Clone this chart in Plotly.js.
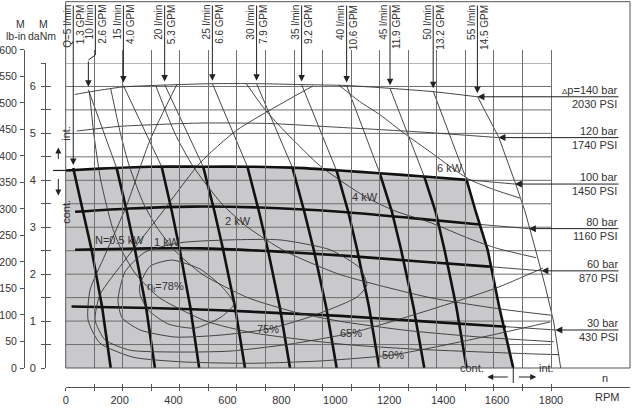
<!DOCTYPE html>
<html><head><meta charset="utf-8">
<script src="https://cdn.plot.ly/plotly-3.0.1.min.js"></script>
<style>html,body{margin:0;padding:0;background:#fff}#chart{width:640px;height:410px}</style>
</head><body><div id="chart"></div>
<script>
// ================= DATA (speed n in RPM, torque M in daNm) =================
const flowQ   = [5, 10, 15, 20, 25, 30, 35, 40, 45, 50, 55];
const flowGPM = ['1.3','2.6','4.0','5.3','6.6','7.9','9.2','10.6','11.9','13.2','14.5'];
const flowN = [
  [28, 64, 96, 135, 167],
  [84, 189, 227, 257, 298, 331],
  [214, 356, 394, 423, 462, 495],
  [367, 510, 552, 584, 628, 665],
  [544, 674, 717, 750, 794, 832],
  [708, 841, 885, 920, 966, 1005],
  [875, 1005, 1048, 1081, 1125, 1163],
  [1042, 1165, 1210, 1244, 1290, 1330],
  [1203, 1330, 1372, 1405, 1449, 1487],
  [1363, 1487, 1521, 1565, 1608, 1660],
  [1527, 1606, 1666, 1703, 1747, 1780, 1810, 1836]
];
const flowT = [
  [4.26, 3.33, 2.52, 1.30, 0],
  [5.93, 4.26, 3.33, 2.52, 1.30, 0],
  [6.02, 4.29, 3.33, 2.52, 1.30, 0],
  [6.04, 4.29, 3.33, 2.52, 1.30, 0],
  [6.06, 4.29, 3.33, 2.52, 1.30, 0],
  [6.06, 4.27, 3.33, 2.52, 1.30, 0],
  [6.04, 4.20, 3.33, 2.52, 1.30, 0],
  [6.02, 4.15, 3.33, 2.52, 1.30, 0],
  [5.96, 4.08, 3.33, 2.52, 1.30, 0],
  [5.90, 4.01, 3.33, 2.52, 1.30, 0],
  [5.79, 4.92, 3.97, 3.35, 2.43, 1.71, 0.98, 0]
];
const flowContFrom = [0, 1, 1, 1, 1, 1, 1, 1, 1, 1, -1];

const pressBar = [140, 120, 100, 80, 60, 30];
const pressPSI = [2030, 1740, 1450, 1160, 870, 430];
const pressN = [
  [34, 83, 212, 368, 546, 709, 876, 1043, 1203, 1362, 1527],
  [41, 201, 498, 758, 980, 1314, 1605],
  [0, 127, 313, 509, 683, 843, 1017, 1165, 1329, 1487, 1666],
  [35, 238, 472, 720, 1017, 1276, 1536, 1718],
  [35, 313, 498, 758, 1017, 1314, 1573, 1764],
  [22, 313, 572, 795, 1017, 1314, 1633, 1816]
];
const pressT = [
  [5.83, 5.88, 5.99, 6.03, 6.06, 6.06, 6.04, 6.02, 5.96, 5.89, 5.78],
  [5.05, 5.15, 5.22, 5.21, 5.14, 5.03, 4.91],
  [4.21, 4.25, 4.29, 4.29, 4.29, 4.27, 4.21, 4.15, 4.08, 4.01, 3.92],
  [3.33, 3.40, 3.44, 3.42, 3.33, 3.20, 3.06, 2.97],
  [2.52, 2.55, 2.55, 2.49, 2.40, 2.27, 2.16, 2.07],
  [1.31, 1.28, 1.23, 1.17, 1.11, 1.00, 0.88, 0.81]
];
const pressContPts = [0, 0, 10, 7, 7, 7];

const powerKW = [0.5, 1, 2, 4, 6];
const powerN = [
  [88, 104, 130, 173, 208, 260, 347, 520, 693, 1040, 1300, 1733, 1830],
  [167, 203, 236, 289, 338, 405, 506, 675, 844, 1013, 1266, 1558, 1810],
  [334, 405, 472, 579, 675, 810, 1013, 1351, 1621, 1800],
  [670, 740, 820, 945, 1111, 1220, 1352, 1500, 1600, 1745],
  [1013, 1090, 1165, 1260, 1351, 1431, 1500, 1590, 1685]
];
const powerT = [
  [5.88, 5.0, 4.0, 3.0, 2.5, 2.0, 1.5, 1.0, 0.75, 0.5, 0.4, 0.3, 0.285],
  [5.95, 5.0, 4.3, 3.5, 3.0, 2.5, 2.0, 1.5, 1.2, 1.0, 0.8, 0.65, 0.56],
  [6.02, 5.0, 4.3, 3.5, 3.0, 2.5, 2.0, 1.5, 1.25, 1.125],
  [6.06, 5.5, 5.0, 4.3, 3.65, 3.35, 3.10, 2.75, 2.55, 2.35],
  [6.03, 5.68, 5.40, 4.98, 4.61, 4.27, 4.01, 3.80, 3.62]
];

const effPct = [78, 75, 65, 50];
const effN = [
  [275, 313, 394, 498, 580, 624, 572, 479, 379, 305, 276, 275],
  [194, 220, 294, 424, 609, 795, 980, 1091, 1117, 1080, 906, 750, 572, 405, 276, 209, 194],
  [917, 635, 498, 350, 220, 127, 109, 146, 238, 424, 609, 832, 1062, 1351, 1599, 1770],
  [413, 313, 227, 146, 90, 83, 127, 250, 435, 683, 943, 1214, 1499, 1796]
];
const effT = [
  [1.77, 2.17, 2.30, 2.11, 1.73, 1.36, 1.07, 0.85, 0.94, 1.24, 1.56, 1.77],
  [1.45, 2.05, 2.47, 2.67, 2.73, 2.73, 2.52, 2.13, 1.77, 1.51, 1.09, 0.83, 0.70, 0.66, 0.81, 1.07, 1.45],
  [6.01, 5.07, 4.37, 3.26, 2.30, 1.56, 1.02, 0.60, 0.38, 0.34, 0.36, 0.51, 0.75, 1.24, 1.71, 2.13],
  [6.05, 4.86, 3.48, 2.41, 1.66, 1.02, 0.53, 0.23, 0.13, 0.10, 0.15, 0.28, 0.60, 0.98]
];

const rpmTicks = [0, 200, 400, 600, 800, 1000, 1200, 1400, 1600, 1800];
const danmMax = 6.5;
const lbinTicks = [0, 50, 100, 150, 200, 250, 300, 350, 400, 450, 500, 550, 600];
const LBIN_PER_DANM = 88.507;

// label anchor positions (layout, not data)
const powerLabelPos = [[201, 2.73], [374, 2.69], [639, 3.14], [1110, 3.65], [1427, 4.27]];
const effLabelPos   = [[369, 1.73], [750, 0.83], [1060, 0.75], [1215, 0.28]];

// ================= GEOMETRY / STYLE =================
const W = 640, H = 410, M = {l: 24, r: 10, t: 0, b: 10};
const PX0 = 65.7, PX1800 = 551, PXR = 630, PY0 = 368, PYT = 63;
const NPERPX = 1800 / (PX1800 - PX0);
const N_MAX = (PXR - PX0) * NPERPX;
const xPx = n => PX0 + n / NPERPX;
const yPx = t => PY0 - t * (PY0 - PYT) / danmMax;
const xP = px => (px - M.l) / (W - M.l - M.r);
const yP = py => (H - M.b - py) / (H - M.t - M.b);
const FONT = 'Liberation Sans, Arial, Helvetica, sans-serif';
const GRID = '#6e6e6e', AX = '#555', TXT = '#333';
const THIN = {color: '#333', width: 0.9};
const THICK = {color: '#111', width: 2.6};
const gridN = Array.from({length: 17}, (_, k) => (k + 1) * 1800 / 17);
const tickN = Array.from({length: 18}, (_, k) => k * 1800 / 17);

// ================= TRACES =================
const traces = [];
function line(n, t, style, xa, ya, shape) {
  traces.push({x: n, y: t, type: 'scatter', mode: 'lines', xaxis: xa || 'x', yaxis: ya || 'y',
    line: Object.assign({shape: shape || 'spline', smoothing: 0.6}, style),
    hoverinfo: 'skip', showlegend: false});
}
effN.forEach((n, i) => line(n, effT[i], THIN, 'x4', 'y2', 'spline'));
powerN.forEach((n, i) => line(n, powerT[i], THIN, 'x3', 'y', 'spline'));
pressN.forEach((n, i) => {
  if (i === 0) line(n, pressT[i].map(v => v * LBIN_PER_DANM), THIN, 'x', 'y3', 'spline');
  else if (i === 1) line(n, pressT[i], THIN, 'x', 'y4', 'spline');
  else line(n, pressT[i], THIN, 'x', 'y', 'spline');
});
pressN.forEach((n, i) => {
  const k = pressContPts[i];
  if (k > 1) line(n.slice(0, k), pressT[i].slice(0, k), THICK, 'x', 'y', 'spline');
});
flowN.forEach((n, i) => {
  line(n, flowT[i], THIN, 'x2', 'y', 'linear');
  const f = flowContFrom[i];
  if (f >= 0) line(n.slice(f), flowT[i].slice(f), THICK, 'x2', 'y', 'linear');
});

// ================= SHAPES =================
const shapes = [];
const pts = [];
for (let j = 0; j < pressContPts[2]; j++) pts.push([pressN[2][j], pressT[2][j]]);
for (let j = 1; j < flowN[9].length; j++) pts.push([flowN[9][j], flowT[9][j]]);
pts.push([0, 0]);
shapes.push({type: 'path', xref: 'x', yref: 'y', layer: 'below', fillcolor: '#c9c9cb', line: {width: 0},
  path: 'M' + pts.map(p => p[0] + ',' + p[1]).join(' L') + ' Z'});
for (let t = 0.5; t <= danmMax + 1e-9; t += 0.5)
  shapes.push({type: 'line', xref: 'x', yref: 'y', x0: 0, x1: 1800, y0: t, y1: t, layer: 'between',
    line: {color: GRID, width: 1}});
shapes.push({type: 'rect', xref: 'paper', yref: 'paper', x0: xP(PX0), x1: xP(PXR), y0: yP(PY0), y1: yP(1.7),
  line: {color: AX, width: 1}, layer: 'above'});
const q10x = xPx(flowN[1][0]);
shapes.push({type: 'path', xref: 'paper', yref: 'paper', line: {color: '#222', width: 1},
  path: `M${xP(q10x + 7)},${yP(5)} L${xP(q10x + 7)},${yP(55)} L${xP(q10x)},${yP(60)}`});
const contT = pressT[2][0];
shapes.push({type: 'line', xref: 'paper', yref: 'paper', x0: xP(53), x1: xP(PX0), y0: yP(yPx(contT)), y1: yP(yPx(contT)),
  line: {color: '#222', width: 1.2}});
const contN = flowN[9][flowN[9].length - 1];
shapes.push({type: 'line', xref: 'paper', yref: 'paper', x0: xP(xPx(contN)), x1: xP(xPx(contN)), y0: yP(PY0), y1: yP(383),
  line: {color: '#222', width: 1}});

// ================= ANNOTATIONS =================
const ann = [];
const tf = (s) => ({family: FONT, size: s || 11, color: TXT});
flowQ.forEach((q, i) => {
  const hn = flowN[i][0], ht = flowT[i][0];
  const hx = xPx(hn), hy = yPx(ht);
  const labX = i === 1 ? hx + 7 : hx;
  ann.push({xref: 'paper', yref: 'paper', x: xP(labX), y: yP(4), xanchor: 'center', yanchor: 'top',
    text: (i === 0 ? 'Q=' : '') + q + ' l/min<br>' + flowGPM[i] + ' GPM', textangle: -90, align: 'right',
    showarrow: false, font: tf(10), borderpad: 0});
  const tailY = i === 1 ? 60 : 4;
  ann.push({xref: 'x', yref: 'y', x: hn, y: ht, text: '', showarrow: true, arrowhead: 2, arrowsize: 1.3,
    arrowwidth: 1, arrowcolor: '#222', ax: 0, ay: tailY - hy, standoff: 3});
});
pressBar.forEach((b, i) => {
  const n = pressN[i], t = pressT[i];
  const en = n[n.length - 1], et = t[t.length - 1];
  ann.push({xref: 'x', yref: 'y', x: en, y: et, text: '', showarrow: true, arrowhead: 2, arrowsize: 1.4,
    arrowwidth: 1, arrowcolor: '#222', ax: 620 - xPx(en), ay: 0, standoff: 0});
  const first = (i === 0 ? '<span style="font-size:8px">Δ</span>p=' : '') + b + ' bar';
  ann.push({xref: 'paper', yref: 'y', x: xP(620), y: et, xanchor: 'right', yanchor: 'middle', align: 'right',
    text: first + '<br>' + pressPSI[i] + ' PSI', showarrow: false, font: tf(11)});
});
powerKW.forEach((p, i) => ann.push({xref: 'x', yref: 'y', x: powerLabelPos[i][0], y: powerLabelPos[i][1],
  text: (i === 0 ? 'N=' : '') + p + ' kW', showarrow: false, font: tf(11)}));
effPct.forEach((p, i) => ann.push({xref: 'x', yref: 'y', x: effLabelPos[i][0], y: effLabelPos[i][1],
  text: (i === 0 ? 'η<sub>t</sub>=' : '') + p + '%', showarrow: false, font: tf(11)}));
[['M', 20, 24, 10.5], ['lb-in', 16, 36, 10.5], ['M', 43, 24, 10.5], ['daNm', 42, 36, 10.5],
 ['n', 605, 378, 11], ['RPM', 606.7, 397, 11]]
  .forEach(a => ann.push({xref: 'paper', yref: 'paper', x: xP(a[1]), y: yP(a[2]), text: a[0], showarrow: false,
    xanchor: 'center', yanchor: 'middle', font: tf(a[3])}));
const mx = xP(58.3), cy = yPx(contT);
ann.push({xref: 'paper', yref: 'paper', x: mx, y: yP(cy - 37), text: 'int.', textangle: -90, showarrow: false, font: tf(11)});
ann.push({xref: 'paper', yref: 'paper', x: mx, y: yP(cy - 23), text: '', showarrow: true, arrowhead: 2, arrowsize: 1.2,
  arrowwidth: 1, arrowcolor: '#222', ax: 0, ay: 13});
ann.push({xref: 'paper', yref: 'paper', x: mx, y: yP(cy + 41), text: 'cont.', textangle: -90, showarrow: false, font: tf(11)});
ann.push({xref: 'paper', yref: 'paper', x: mx, y: yP(cy + 25), text: '', showarrow: true, arrowhead: 2, arrowsize: 1.2,
  arrowwidth: 1, arrowcolor: '#222', ax: 0, ay: -18});
const bx = xPx(contN);
ann.push({xref: 'paper', yref: 'paper', x: xP(bx - 27), y: yP(376), xanchor: 'right', text: 'cont.', showarrow: false, font: tf(11)});
ann.push({xref: 'paper', yref: 'paper', x: xP(bx - 26), y: yP(377), text: '', showarrow: true, arrowhead: 2, arrowsize: 1.2,
  arrowwidth: 1, arrowcolor: '#222', ax: 22, ay: 0});
ann.push({xref: 'paper', yref: 'paper', x: xP(bx + 23), y: yP(377), text: '', showarrow: true, arrowhead: 2, arrowsize: 1.2,
  arrowwidth: 1, arrowcolor: '#222', ax: -19, ay: 0});
ann.push({xref: 'paper', yref: 'paper', x: xP(bx + 24), y: yP(376), xanchor: 'left', text: 'int.', showarrow: false, font: tf(11)});

// ================= LAYOUT =================
const noAx = {showgrid: false, zeroline: false, showline: false, showticklabels: false, ticks: ''};
const layout = {
  width: W, height: H, margin: M, paper_bgcolor: '#fff', plot_bgcolor: 'rgba(0,0,0,0)',
  font: {family: FONT, size: 11, color: TXT}, showlegend: false,
  xaxis: Object.assign({}, noAx, {domain: [xP(PX0), 1], range: [0, N_MAX], anchor: 'y',
    tickmode: 'array', tickvals: gridN, showgrid: true, gridcolor: GRID, gridwidth: 1}),
  yaxis: Object.assign({}, noAx, {domain: [yP(PY0), yP(PYT)], range: [0, danmMax], anchor: 'x'}),
  xaxis2: Object.assign({}, noAx, {overlaying: 'x', anchor: 'free', position: yP(386.7), side: 'bottom',
    range: [0, N_MAX], tickmode: 'array', tickvals: rpmTicks, ticktext: rpmTicks.map(String),
    showticklabels: true, showline: true, linecolor: AX, linewidth: 1, ticklabelstandoff: 3, ticklabelshift: -3.5,
    tickfont: tf(11)}),
  xaxis3: Object.assign({}, noAx, {overlaying: 'x', anchor: 'free', position: yP(386.7), side: 'bottom',
    range: [0, N_MAX], tickmode: 'array', tickvals: tickN, ticks: 'outside', ticklen: 3, tickcolor: AX, tickwidth: 1}),
  xaxis4: Object.assign({}, noAx, {overlaying: 'x', anchor: 'free', position: yP(386.7), side: 'bottom',
    range: [0, N_MAX], tickmode: 'array', tickvals: tickN, ticks: 'inside', ticklen: 3, tickcolor: AX, tickwidth: 1}),
  yaxis2: Object.assign({}, noAx, {overlaying: 'y', anchor: 'free', position: xP(45), side: 'left',
    range: [0, danmMax], tickmode: 'linear', tick0: 0, dtick: 1, ticks: 'outside', ticklen: 4, tickcolor: AX,
    showticklabels: true, showline: true, linecolor: AX, linewidth: 1, ticklabelstandoff: 3, tickfont: tf(11),
    minor: {tick0: 0, dtick: 0.5, ticks: 'outside', ticklen: 4, tickcolor: AX}}),
  yaxis4: Object.assign({}, noAx, {overlaying: 'y', anchor: 'free', position: xP(45), side: 'left',
    range: [0, danmMax], tickmode: 'linear', tick0: 0, dtick: 0.5, ticks: 'inside', ticklen: 5, tickcolor: AX}),
  yaxis3: Object.assign({}, noAx, {domain: [yP(PY0), yP(yPx(600 / LBIN_PER_DANM))], anchor: 'free', position: 0,
    side: 'left', range: [0, 600], tickmode: 'array', tickvals: lbinTicks, ticks: 'outside', ticklen: 4,
    tickcolor: AX, showticklabels: true, showline: true, linecolor: AX, linewidth: 1, ticklabelstandoff: 1,
    tickfont: tf(10.5)}),
  shapes: shapes, annotations: ann
};
Plotly.newPlot('chart', traces, layout, {staticPlot: true, displayModeBar: false});
</script></body></html>
